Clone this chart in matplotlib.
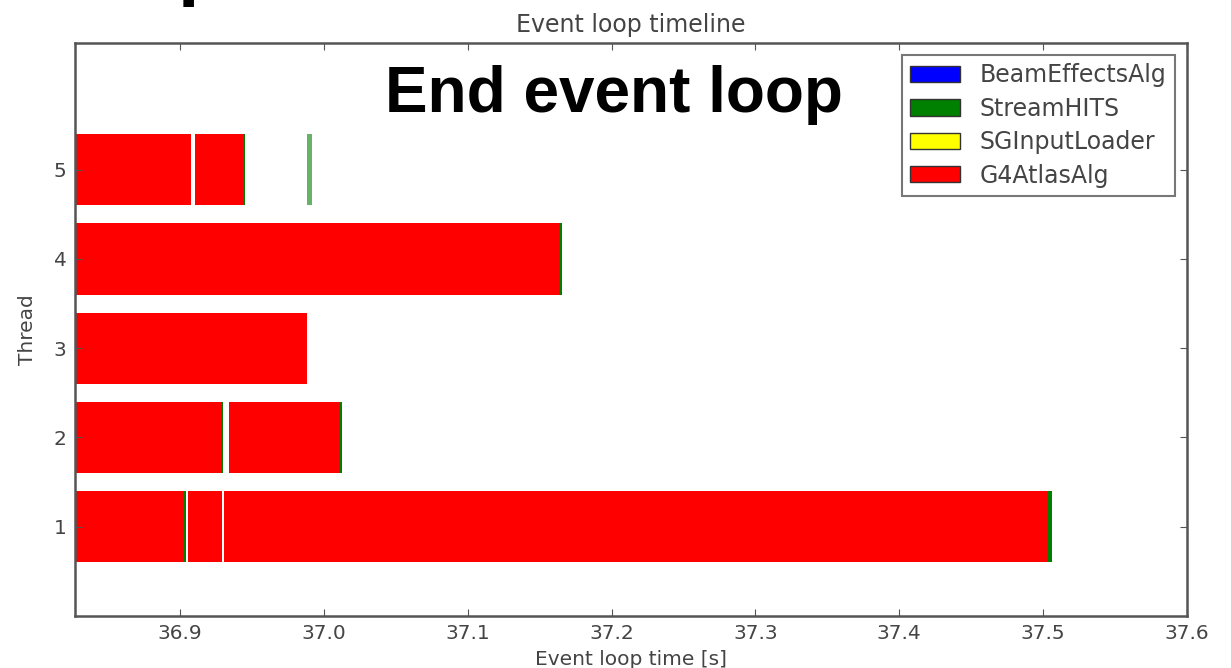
import matplotlib
matplotlib.use("Agg")
from matplotlib import pyplot as plt
from matplotlib.patches import Patch

# algorithms shown in the legend and their colours
algs = ["BeamEffectsAlg", "StreamHITS", "SGInputLoader", "G4AtlasAlg"]
colors = ["blue", "green", "yellow", "red"]

# (thread, start, end) intervals per algorithm
g4_runs = [
    (1, 36.827, 36.9025),
    (1, 36.9055, 36.9295),
    (1, 36.9303, 37.5025),
    (2, 36.827, 36.9285),
    (2, 36.934, 37.0115),
    (3, 36.827, 36.9885),
    (4, 36.827, 37.1635),
    (5, 36.827, 36.9075),
    (5, 36.9105, 36.9445),
]
hits_runs = [
    (1, 36.9025, 36.9045),
    (1, 37.5025, 37.5065),
    (2, 36.9285, 36.930),
    (2, 37.0115, 37.0125),
    (4, 37.1635, 37.1655),
    (5, 36.9445, 36.9455),
    (5, 36.9885, 36.9915),
]
beam_runs = []
sg_runs = []

threads = [1, 2, 3, 4, 5]
x_ticks = [36.9, 37.0, 37.1, 37.2, 37.3, 37.4, 37.5, 37.6]

fig = plt.figure(figsize=(12.31, 6.68), dpi=100)
ax = fig.add_axes([75 / 1231, 52 / 668, 1112 / 1231, 573 / 668])

runs = [beam_runs, hits_runs, sg_runs, g4_runs]
for alg_runs, col in zip(runs, colors):
    for thread, t0, t1 in alg_runs:
        alpha = 0.6 if (thread == 5 and t0 > 36.98) else 1.0
        ax.broken_barh([(t0, t1 - t0)], (thread - 0.4, 0.8),
                       facecolors=col, edgecolor="none", alpha=alpha)

ax.set_xlim(36.827, 37.6)
ax.set_ylim(0, 6.42)
ax.set_xticks(x_ticks)
ax.set_xticklabels([f"{v:.1f}" for v in x_ticks])
ax.set_yticks(threads)

for s in ax.spines.values():
    s.set_color("#555555")
    s.set_linewidth(1.8)
ax.tick_params(colors="#555555", labelcolor="#444444", labelsize=14.5,
               direction="in", length=5, top=True, right=True, pad=6)

ax.set_title("Event loop timeline", fontsize=17, color="#444444", pad=8)
ax.set_xlabel("Event loop time [s]", fontsize=14.5, color="#444444", labelpad=5)
ax.set_ylabel("Thread", fontsize=14.5, color="#444444", labelpad=12)

handles = [Patch(facecolor=c, edgecolor="#333333", label=a)
           for a, c in zip(algs, colors)]
leg = ax.legend(handles=handles, loc="upper right", fontsize=17,
                frameon=True, fancybox=False, borderpad=0.35,
                handlelength=2.1, handleheight=0.68, handletextpad=0.85,
                labelspacing=0.4, borderaxespad=0,
                bbox_to_anchor=(1 - 12 / 1112, 1 - 12 / 573))
leg.get_frame().set_edgecolor("#555555")
leg.get_frame().set_linewidth(1.5)
for t in leg.get_texts():
    t.set_color("#444444")

fig.text(385 / 1231, 1 - 112 / 668, "End event loop", family="Liberation Sans",
         fontweight="bold", fontsize=46, color="black", va="baseline")
# bottom of a slide heading that is cut off at the top
fig.text(178 / 1231, 1 + 9 / 668, "p", family="Liberation Sans",
         fontweight="bold", fontsize=56, color="black", va="baseline")

fig.savefig("out.png", dpi=100)
